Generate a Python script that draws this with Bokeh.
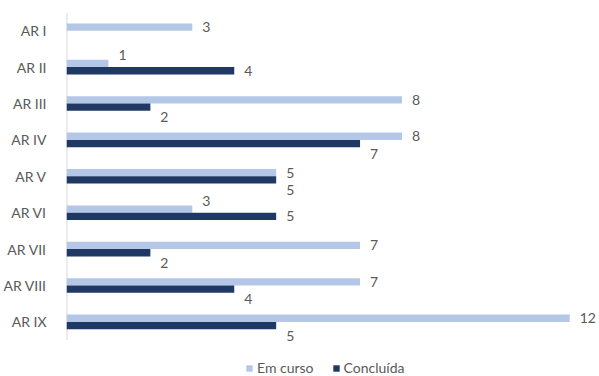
from bokeh.plotting import figure
from bokeh.models import ColumnDataSource, FactorRange, Legend, LegendItem
from bokeh.transform import dodge
from bokeh.core.properties import value
from bokeh.embed import file_html
from bokeh.resources import INLINE

categories = ["AR I", "AR II", "AR III", "AR IV", "AR V", "AR VI", "AR VII", "AR VIII", "AR IX"]
em_curso = [3, 1, 8, 8, 5, 3, 7, 7, 12]
concluida = [None, 4, 2, 7, 5, 5, 2, 4, 5]
series_names = ["Em curso", "Concluída"]

LIGHT = "#B4C7E7"
DARK = "#1F3864"
GREY = "#595959"
FONT = "Lato"

# label offsets (px, positive = down): avoid overlapping labels of a pair
light_off, dark_off = [], []
for a, b in zip(em_curso, concluida):
    if b is not None and a < b:
        light_off.append(-8)
        dark_off.append(0)
    else:
        light_off.append(0)
        dark_off.append(10)

nan = float("nan")
src = ColumnDataSource(dict(
    cat=categories,
    em=em_curso,
    co=[nan if v is None else v for v in concluida],
    em_lbl=[str(v) for v in em_curso],
    co_lbl=["" if v is None else str(v) for v in concluida],
    em_off=light_off,
    co_off=dark_off,
))

# a blank band at the bottom holds the legend inside the frame
factors = [" "] + list(reversed(categories))
p = figure(width=599, height=376, output_backend="svg", toolbar_location=None,
           y_range=FactorRange(*factors), x_range=(0, 12.71),
           min_border_left=66, min_border_right=0, min_border_top=12, min_border_bottom=0)
p.outline_line_color = None
p.xgrid.visible = False
p.ygrid.visible = False
p.xaxis.visible = False

yax = p.yaxis[0]
yax.axis_line_color = None
yax.major_tick_line_color = None
yax.minor_tick_line_color = None
yax.major_label_standoff = 14
yax.major_label_text_font = FONT
yax.major_label_text_font_size = "14px"
yax.major_label_text_color = GREY

# value axis baseline spanning the category bands only
axis_src = ColumnDataSource(dict(top=[categories[0]], bot=[categories[-1]], x=[0]))
p.segment(x0="x", x1="x", y0=dodge("top", 0.5, range=p.y_range),
          y1=dodge("bot", -0.5, range=p.y_range), source=axis_src,
          line_color="#D9D9D9", line_width=2)

r_em = p.hbar(y=dodge("cat", 0.1, range=p.y_range), right="em", left=0, height=0.2,
              source=src, fill_color=LIGHT, line_color=None)
r_co = p.hbar(y=dodge("cat", -0.1, range=p.y_range), right="co", left=0, height=0.2,
              source=src, fill_color=DARK, line_color=None)

p.text(x="em", y=dodge("cat", 0.1, range=p.y_range), text="em_lbl", source=src,
       x_offset=10, y_offset="em_off", text_align="left", text_baseline="middle",
       text_font=value(FONT), text_font_size="14px", text_color=GREY)
p.text(x="co", y=dodge("cat", -0.1, range=p.y_range), text="co_lbl", source=src,
       x_offset=10, y_offset="co_off", text_align="left", text_baseline="middle",
       text_font=value(FONT), text_font_size="14px", text_color=GREY)

legend = Legend(items=[LegendItem(label=series_names[0], renderers=[r_em]),
                       LegendItem(label=series_names[1], renderers=[r_co])],
                orientation="horizontal", location=(179, 0),
                glyph_width=8, glyph_height=8, label_standoff=4, spacing=18,
                label_height=14, padding=0, margin=0,
                border_line_color=None, background_fill_alpha=0,
                label_text_font=FONT, label_text_font_size="14px", label_text_color=GREY)
p.add_layout(legend, "center")

open("out.html", "w").write(file_html(p, INLINE))
